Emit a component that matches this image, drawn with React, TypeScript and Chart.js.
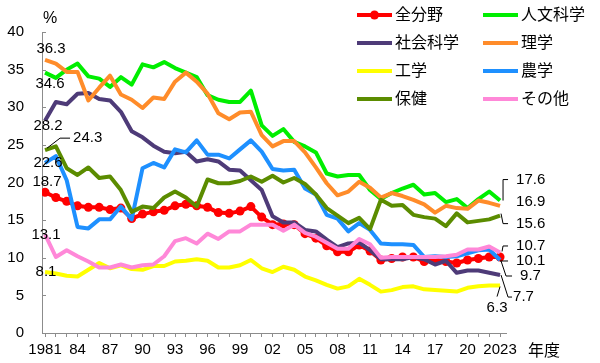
import React, { useEffect, useRef } from 'react';
import { Chart, registerables } from 'chart.js';

Chart.register(...registerables);

// ---- Data ----
const years = [
  '1981', '1982', '1983', '1984', '1985', '1986', '1987', '1988', '1989', '1990',
  '1991', '1992', '1993', '1994', '1995', '1996', '1997', '1998', '1999', '2000',
  '2001', '2002', '2003', '2004', '2005', '2006', '2007', '2008', '2009', '2010',
  '2011', '2012', '2013', '2014', '2015', '2016', '2017', '2018', '2019', '2020',
  '2021', '2022', '2023',
];

const xTickLabels = [
  '1981', '', '', '84', '', '', '87', '', '', '90', '', '', '93', '', '',
  '96', '', '', '99', '', '', '02', '', '', '05', '', '', '08', '', '',
  '11', '', '', '14', '', '', '17', '', '', '20', '', '', '2023',
];

const yTicks = [0, 5, 10, 15, 20, 25, 30, 35, 40];

const zenbunya = [
  18.7, 18.0, 17.5, 16.9, 16.7, 16.7, 16.4, 16.6, 15.2, 15.8,
  16.1, 16.3, 16.9, 17.1, 16.9, 16.7, 16.0, 15.9, 16.2, 16.8,
  15.4, 14.4, 14.5, 14.4, 13.2, 12.6, 11.6, 10.8, 10.8, 11.7,
  10.9, 9.7, 9.9, 10.1, 10.1, 9.5, 9.7, 9.5, 9.3, 9.7,
  9.9, 10.1, 10.1,
];
const jinbun = [
  34.6, 33.9, 35.0, 35.8, 34.1, 33.8, 32.7, 34.0, 33.0, 35.7,
  35.3, 36.0, 35.2, 34.6, 34.0, 31.6, 31.0, 30.7, 30.7, 32.2,
  27.6, 26.2, 27.1, 25.4, 24.8, 24.0, 21.2, 20.8, 21.0, 21.0,
  19.0, 17.8, 18.6, 19.2, 19.7, 18.4, 18.6, 17.4, 17.8, 16.6,
  17.8, 18.8, 17.6,
];
const shakai = [
  28.2, 30.7, 30.4, 31.8, 31.9, 31.1, 30.9, 29.4, 26.8, 26.0,
  24.9, 24.1, 23.9, 24.1, 22.8, 23.1, 22.8, 21.7, 21.6, 20.3,
  19.0, 15.5, 14.7, 14.7, 13.7, 13.5, 12.4, 11.4, 11.9, 12.0,
  11.0, 9.8, 9.8, 9.8, 10.1, 9.8, 9.1, 9.6, 8.0, 8.3,
  8.3, 8.0, 7.7,
];
const rigaku = [
  36.3, 35.8, 34.7, 34.7, 30.9, 32.6, 34.2, 31.7, 31.0, 29.9,
  31.3, 31.1, 33.4, 34.6, 33.4, 31.8, 29.2, 28.4, 29.3, 29.4,
  26.3, 24.8, 25.5, 25.5, 24.0, 22.0, 19.9, 18.3, 18.8, 20.1,
  19.3, 18.0, 18.6, 18.2, 17.7, 17.1, 16.0, 16.9, 16.6, 16.5,
  17.6, 17.3, 16.9,
];
const kougaku = [
  8.1, 7.9, 7.6, 7.5, 8.4, 9.3, 8.6, 9.0, 8.5, 8.4,
  8.9, 8.9, 9.5, 9.6, 9.8, 9.6, 8.7, 8.7, 9.0, 9.7,
  8.6, 8.1, 8.8, 8.4, 7.5, 7.0, 6.4, 5.9, 6.2, 7.2,
  6.4, 5.5, 5.7, 6.1, 6.2, 5.8, 5.7, 5.6, 5.5, 6.0,
  6.2, 6.3, 6.3,
];
const nougaku = [
  22.6, 23.5, 20.3, 14.1, 13.9, 15.1, 15.1, 16.8, 15.1, 21.9,
  22.6, 22.0, 24.4, 24.0, 25.6, 23.7, 23.7, 23.2, 24.4, 25.6,
  24.1, 21.8, 21.6, 21.7, 19.2, 18.4, 15.7, 15.2, 13.5, 14.6,
  13.7, 11.9, 11.8, 11.8, 11.7, 10.1, 10.2, 10.1, 10.2, 10.6,
  11.0, 11.1, 9.7,
];
const hoken = [
  24.3, 24.8, 21.9, 21.0, 22.0, 20.6, 20.8, 19.0, 16.1, 16.8,
  16.6, 18.0, 18.8, 18.0, 16.8, 20.4, 19.9, 19.9, 20.2, 20.8,
  20.1, 20.9, 20.0, 20.6, 19.8, 18.4, 16.6, 15.6, 14.6, 15.3,
  13.8, 17.7, 16.9, 17.0, 15.7, 15.4, 15.2, 14.2, 15.9, 14.7,
  14.9, 15.1, 15.6,
];
const sonota = [
  13.1, 10.1, 11.0, 10.2, 9.5, 8.7, 8.7, 9.1, 8.7, 9.0,
  9.1, 10.2, 12.2, 12.6, 11.9, 13.2, 12.5, 13.5, 13.5, 14.4,
  14.4, 14.4, 13.6, 14.4, 13.3, 12.8, 12.0, 11.2, 11.2, 12.5,
  11.8, 10.0, 10.1, 10.1, 10.1, 10.1, 10.1, 10.2, 10.4, 11.1,
  11.1, 11.5, 10.7,
];

const seriesNames = ['全分野', '人文科学', '社会科学', '理学', '工学', '農学', '保健', 'その他'];
const seriesValues = [zenbunya, jinbun, shakai, rigaku, kougaku, nougaku, hoken, sonota];
const seriesColors = ['#FF0000', '#00EE00', '#4E3B78', '#FF8C2A', '#FFFF00', '#1E90FF', '#5B8C00', '#FF88D8'];

const unitLabel = '%';
const xAxisTitle = '年度';

// ---- Styling ----
const FONT = "'Liberation Sans', Arial, 'Noto Sans CJK JP', sans-serif";
const AXIS_COLOR = '#8c8c8c';

type Pt = [number, number];
type Ann = { ds: number; at: 'start' | 'end'; dx: number; dy: number; align: CanvasTextAlign; leader?: Pt[] };

const annotations: Ann[] = [
  { ds: 3, at: 'start', dx: 6, dy: -11, align: 'center' },
  { ds: 1, at: 'start', dx: 5, dy: 11, align: 'center' },
  { ds: 2, at: 'start', dx: 3, dy: 5, align: 'center' },
  { ds: 6, at: 'start', dx: 28, dy: -12, align: 'left', leader: [[2, -2], [15, -12], [25, -12]] },
  { ds: 5, at: 'start', dx: 3, dy: 0, align: 'center' },
  { ds: 0, at: 'start', dx: 2, dy: -10, align: 'center' },
  { ds: 7, at: 'start', dx: 1, dy: 0.5, align: 'center' },
  { ds: 4, at: 'start', dx: 1, dy: 0, align: 'center' },
  { ds: 1, at: 'end', dx: 16, dy: -21, align: 'left', leader: [[3, 0], [3, -21], [8, -21]] },
  { ds: 3, at: 'end', dx: 16, dy: -4, align: 'left' },
  { ds: 6, at: 'end', dx: 16, dy: 8, align: 'left', leader: [[1, -2], [3, 8], [8, 8]] },
  { ds: 7, at: 'end', dx: 16, dy: -6.5, align: 'left', leader: [[2, -1], [3, -6.5], [8, -6.5]] },
  { ds: 0, at: 'end', dx: 16, dy: 4, align: 'left', leader: [[0, 4], [8, 4]] },
  { ds: 5, at: 'end', dx: 20, dy: 16, align: 'left', leader: [[1, 1], [6, 16], [12, 16]] },
  { ds: 2, at: 'end', dx: 13, dy: 22, align: 'left', leader: [[1, 0], [8, 22], [12, 22]] },
  { ds: 4, at: 'end', dx: -3, dy: 22, align: 'center', leader: [[0, 1], [-3, 11]] },
];

// legend layout: two columns, four rows
const legendCols = [357, 483];
const legendRowTop = 15;
const legendRowGap = 28;
const legendLineLen = 35;

const overlayPlugin = {
  id: 'overlay',
  afterDraw(chart: any) {
    const ctx: CanvasRenderingContext2D = chart.ctx;
    const xs = chart.scales.x;
    const ys = chart.scales.y;
    const area = chart.chartArea;
    ctx.save();

    // inner y ticks
    ctx.strokeStyle = AXIS_COLOR;
    ctx.lineWidth = 1;
    yTicks.forEach((v) => {
      const y = Math.round(ys.getPixelForValue(v)) + 0.5;
      ctx.beginPath();
      ctx.moveTo(area.left, y);
      ctx.lineTo(area.left + 4, y);
      ctx.stroke();
    });

    // unit & axis title
    ctx.fillStyle = '#000';
    ctx.font = `16px ${FONT}`;
    ctx.textBaseline = 'middle';
    ctx.textAlign = 'center';
    ctx.fillText(unitLabel, area.left + 8, area.top - 13);
    ctx.textAlign = 'left';
    ctx.fillText(xAxisTitle, area.right + 22, area.bottom + 19);

    // value annotations
    ctx.font = `15px ${FONT}`;
    annotations.forEach((a) => {
      const vals = seriesValues[a.ds];
      const idx = a.at === 'start' ? 0 : vals.length - 1;
      const px = xs.getPixelForValue(idx);
      const py = ys.getPixelForValue(vals[idx]);
      if (a.leader) {
        ctx.strokeStyle = '#000';
        ctx.lineWidth = 1;
        ctx.beginPath();
        a.leader.forEach(([lx, ly], i) => {
          if (i === 0) ctx.moveTo(px + lx, py + ly);
          else ctx.lineTo(px + lx, py + ly);
        });
        ctx.stroke();
      }
      ctx.fillStyle = '#000';
      ctx.textAlign = a.align;
      ctx.textBaseline = 'middle';
      ctx.fillText(vals[idx].toFixed(1), px + a.dx, py + a.dy);
    });

    // legend
    ctx.font = `16px ${FONT}`;
    ctx.textAlign = 'left';
    ctx.textBaseline = 'middle';
    chart.data.datasets.forEach((ds: any, i: number) => {
      const col = i % 2;
      const row = Math.floor(i / 2);
      const x0 = legendCols[col];
      const y = legendRowTop + row * legendRowGap;
      ctx.strokeStyle = ds.borderColor;
      ctx.lineWidth = 4;
      ctx.beginPath();
      ctx.moveTo(x0, y);
      ctx.lineTo(x0 + legendLineLen, y);
      ctx.stroke();
      if (ds.pointRadius > 0) {
        ctx.fillStyle = ds.pointBackgroundColor;
        ctx.beginPath();
        ctx.arc(x0 + legendLineLen / 2, y, ds.pointRadius, 0, Math.PI * 2);
        ctx.fill();
      }
      ctx.fillStyle = '#000';
      ctx.fillText(ds.label, x0 + legendLineLen + 3, y + 1);
    });

    ctx.restore();
  },
};

export default function App() {
  const canvasRef = useRef<HTMLCanvasElement | null>(null);

  useEffect(() => {
    if (!canvasRef.current) return;
    Chart.defaults.font.family = FONT;
    const datasets = seriesNames.map((name, i) => ({
      label: name,
      data: seriesValues[i].map((v, j) => ({ x: j, y: v })),
      borderColor: seriesColors[i],
      backgroundColor: seriesColors[i],
      borderWidth: 4,
      pointRadius: i === 0 ? 4.5 : 0,
      pointHoverRadius: 0,
      pointBackgroundColor: seriesColors[i],
      pointBorderWidth: 0,
      tension: 0,
      fill: false,
      order: seriesNames.length - i,
      borderJoinStyle: 'round' as const,
    }));

    const chart = new Chart(canvasRef.current, {
      type: 'line',
      data: { labels: years, datasets },
      options: {
        responsive: false,
        animation: false,
        events: [],
        layout: { padding: { top: 32, right: 94, bottom: 0, left: 0 } },
        plugins: {
          legend: { display: false },
          tooltip: { enabled: false },
          title: { display: false },
        },
        scales: {
          x: {
            type: 'linear',
            min: -0.28,
            max: 42.55,
            afterBuildTicks: (axis: any) => {
              axis.ticks = xTickLabels.map((_, i) => ({ value: i }));
            },
            afterFit: (axis: any) => {
              axis.height = 30;
            },
            grid: {
              display: true,
              drawOnChartArea: false,
              drawTicks: true,
              tickLength: 4,
              color: AXIS_COLOR,
            },
            border: { display: true, color: AXIS_COLOR, width: 1 },
            ticks: {
              autoSkip: false,
              maxRotation: 0,
              minRotation: 0,
              padding: 4,
              color: '#000',
              font: { size: 15, family: FONT },
              callback: (v: any) => xTickLabels[Math.round(Number(v))] ?? '',
            },
          },
          y: {
            type: 'linear',
            min: 0,
            max: 40,
            afterBuildTicks: (axis: any) => {
              axis.ticks = yTicks.map((v) => ({ value: v }));
            },
            afterFit: (axis: any) => {
              axis.width = 42;
            },
            grid: { display: true, drawOnChartArea: false, drawTicks: false },
            border: { display: true, color: AXIS_COLOR, width: 1 },
            ticks: {
              padding: 18,
              color: '#000',
              font: { size: 15, family: FONT },
              callback: (v: any) => String(v),
            },
          },
        },
      },
      plugins: [overlayPlugin],
    });

    return () => chart.destroy();
  }, []);

  return (
    <div style={{ position: 'absolute', left: 0, top: 0, width: 600, height: 363, background: '#fff' }}>
      <canvas ref={canvasRef} width={600} height={363} style={{ width: 600, height: 363, display: 'block' }} />
    </div>
  );
}
